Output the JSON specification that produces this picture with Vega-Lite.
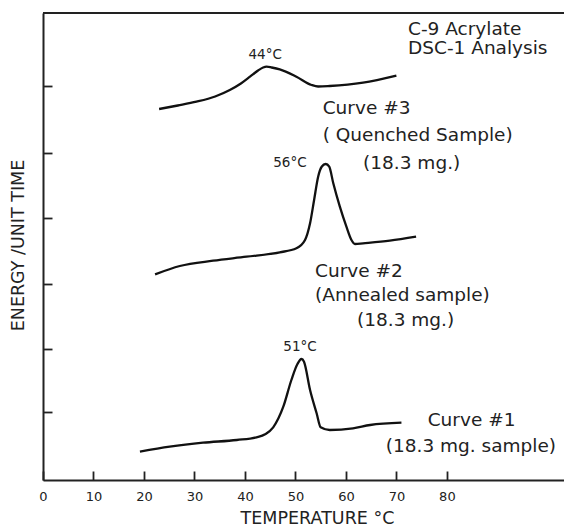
{
  "$schema": "https://vega.github.io/schema/vega-lite/v6.json",
  "width": 521,
  "height": 467,
  "autosize": {"type": "none"},
  "padding": {"left": 43, "top": 13, "right": 0, "bottom": 49},
  "background": "white",
  "config": {
    "font": "DejaVu Sans",
    "view": {"stroke": null},
    "axis": {"grid": false, "domainColor": "#222", "domainWidth": 2, "tickColor": "#222", "tickWidth": 1.8, "labelColor": "#222", "titleColor": "#222"}
  },
  "datasets": {
    "curves": [
      {"curve": "3", "T": 23.0, "E": 371}, {"curve": "3", "T": 26.7, "E": 374.5}, {"curve": "3", "T": 30.4, "E": 378.3},
      {"curve": "3", "T": 34.1, "E": 383.5}, {"curve": "3", "T": 37.0, "E": 390}, {"curve": "3", "T": 39.2, "E": 396.5},
      {"curve": "3", "T": 41.0, "E": 403.3}, {"curve": "3", "T": 42.6, "E": 409.5}, {"curve": "3", "T": 43.6, "E": 412.5},
      {"curve": "3", "T": 44.3, "E": 413.3}, {"curve": "3", "T": 45.3, "E": 412.5}, {"curve": "3", "T": 46.9, "E": 410.7},
      {"curve": "3", "T": 50.2, "E": 403.3}, {"curve": "3", "T": 53.2, "E": 395}, {"curve": "3", "T": 54.5, "E": 393.5},
      {"curve": "3", "T": 56.8, "E": 394}, {"curve": "3", "T": 63.4, "E": 397.3}, {"curve": "3", "T": 70.0, "E": 404.3},
      {"curve": "2", "T": 22.2, "E": 205.7}, {"curve": "2", "T": 27.1, "E": 214}, {"curve": "2", "T": 33.7, "E": 219.3},
      {"curve": "2", "T": 40.3, "E": 223.3}, {"curve": "2", "T": 46.9, "E": 227.7}, {"curve": "2", "T": 50.2, "E": 231.7},
      {"curve": "2", "T": 51.9, "E": 240}, {"curve": "2", "T": 52.9, "E": 256.7}, {"curve": "2", "T": 53.7, "E": 280},
      {"curve": "2", "T": 54.5, "E": 303.3}, {"curve": "2", "T": 55.2, "E": 313.3}, {"curve": "2", "T": 56.0, "E": 316},
      {"curve": "2", "T": 56.7, "E": 313.3}, {"curve": "2", "T": 57.5, "E": 296.7}, {"curve": "2", "T": 58.8, "E": 273.3},
      {"curve": "2", "T": 60.1, "E": 253.3}, {"curve": "2", "T": 61.1, "E": 240}, {"curve": "2", "T": 61.8, "E": 236},
      {"curve": "2", "T": 63.4, "E": 236.7}, {"curve": "2", "T": 68.7, "E": 239.3}, {"curve": "2", "T": 73.9, "E": 243.3},
      {"curve": "1", "T": 19.2, "E": 28.3}, {"curve": "1", "T": 25.1, "E": 33.3}, {"curve": "1", "T": 31.7, "E": 37.3},
      {"curve": "1", "T": 38.4, "E": 40}, {"curve": "1", "T": 42.3, "E": 42.7}, {"curve": "1", "T": 44.0, "E": 45.7},
      {"curve": "1", "T": 45.6, "E": 52.7}, {"curve": "1", "T": 47.6, "E": 73.3}, {"curve": "1", "T": 49.2, "E": 100},
      {"curve": "1", "T": 50.4, "E": 116}, {"curve": "1", "T": 51.2, "E": 121}, {"curve": "1", "T": 51.7, "E": 118.3},
      {"curve": "1", "T": 52.9, "E": 90}, {"curve": "1", "T": 54.2, "E": 66.7}, {"curve": "1", "T": 55.0, "E": 52.7},
      {"curve": "1", "T": 56.8, "E": 50}, {"curve": "1", "T": 61.4, "E": 51.7}, {"curve": "1", "T": 64.8, "E": 55},
      {"curve": "1", "T": 71.0, "E": 57.3}
    ],
    "peaks": [
      {"label": "44°C", "T": 44.0, "E": 425},
      {"label": "56°C", "T": 48.9, "E": 317},
      {"label": "51°C", "T": 50.9, "E": 133}
    ],
    "notes": [
      {"label": "C-9 Acrylate", "T": 72.3, "E": 451},
      {"label": "DSC-1 Analysis", "T": 72.3, "E": 432},
      {"label": "Curve #3", "T": 55.4, "E": 372},
      {"label": "( Quenched Sample)", "T": 55.4, "E": 345},
      {"label": "(18.3 mg.)", "T": 63.4, "E": 317},
      {"label": "Curve #2", "T": 53.9, "E": 209},
      {"label": "(Annealed sample)", "T": 53.9, "E": 185},
      {"label": "(18.3 mg.)", "T": 62.2, "E": 160},
      {"label": "Curve #1", "T": 76.2, "E": 60},
      {"label": "(18.3 mg. sample)", "T": 67.9, "E": 34}
    ]
  },
  "layer": [
    {
      "data": {"name": "curves"},
      "mark": {"type": "line", "color": "#111", "strokeWidth": 2.3, "interpolate": "monotone"},
      "encoding": {
        "x": {
          "field": "T", "type": "quantitative",
          "scale": {"domain": [0, 103.2], "nice": false, "zero": false},
          "axis": {
            "values": [0, 10, 20, 30, 40, 50, 60, 70, 80],
            "tickSize": -9, "labelPadding": 25, "labelFontSize": 13, "labelFlush": false, "labelBaseline": "middle",
            "title": "TEMPERATURE °C", "titleFontSize": 17.5, "titleFontWeight": "normal",
            "titleX": 274, "titleY": 38, "titleBaseline": "middle", "titleAnchor": null
          }
        },
        "y": {
          "field": "E", "type": "quantitative",
          "scale": {"domain": [0, 467], "nice": false, "zero": false},
          "axis": {
            "values": [68, 131, 196, 262, 327, 394],
            "tickSize": -9, "labels": false,
            "title": "ENERGY /UNIT TIME", "titleFontSize": 17.5, "titleFontWeight": "normal",
            "titleX": -25, "titleY": 232, "titleAngle": -90, "titleBaseline": "middle", "titleAnchor": null
          }
        },
        "detail": {"field": "curve"}
      }
    },
    {
      "data": {"values": [{}]},
      "mark": {"type": "rule", "color": "#222", "strokeWidth": 2},
      "encoding": {"y": {"datum": 467}}
    },
    {
      "data": {"name": "peaks"},
      "mark": {"type": "text", "fontSize": 13.5, "align": "center", "baseline": "middle", "color": "#222"},
      "encoding": {
        "x": {"field": "T", "type": "quantitative"},
        "y": {"field": "E", "type": "quantitative"},
        "text": {"field": "label"}
      }
    },
    {
      "data": {"name": "notes"},
      "mark": {"type": "text", "fontSize": 18.5, "align": "left", "baseline": "middle", "color": "#222"},
      "encoding": {
        "x": {"field": "T", "type": "quantitative"},
        "y": {"field": "E", "type": "quantitative"},
        "text": {"field": "label"}
      }
    }
  ]
}
